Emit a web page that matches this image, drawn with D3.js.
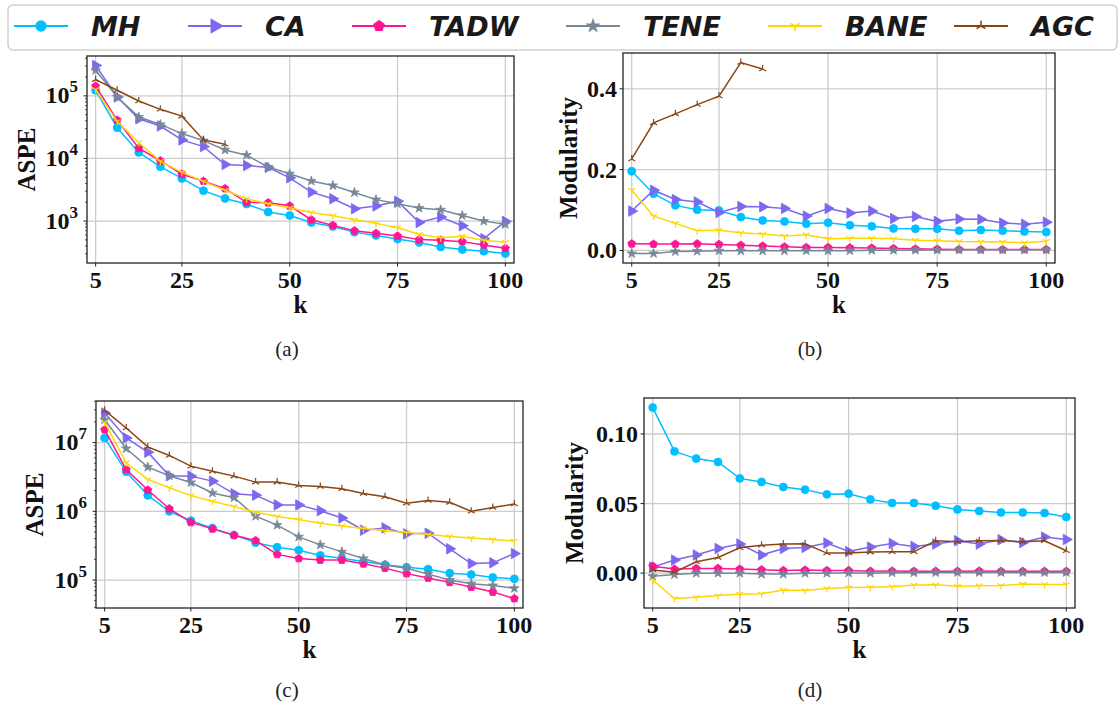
<!DOCTYPE html>
<html>
<head>
<meta charset="utf-8">
<script src="https://cdn.jsdelivr.net/npm/d3@7"></script>
<style>
  body { margin: 0; background: #fff; }
</style>
</head>
<body>
<svg id="fig" width="1120" height="709"></svg>
<script>
// k values on the x axis
const kVals = d3.range(5, 101, 5);
const methods = ["MH", "CA", "TADW", "TENE", "BANE", "AGC"];
const colors = ["#00bfff", "#7b68ee", "#ff1493", "#778899", "#ffd700", "#8b4513"];

// (a) ASPE
const aMH   = [1.23e5, 3.1e4, 1.25e4, 7.4e3, 4.8e3, 3.06e3, 2.3e3, 1.87e3, 1.4e3, 1.23e3, 950, 820, 665, 590, 515, 455, 385, 350, 330, 302];
const aCA   = [3.07e5, 9.6e4, 4.3e4, 3.3e4, 1.98e4, 1.55e4, 8.0e3, 7.7e3, 7.2e3, 4.9e3, 2.9e3, 2.27e3, 1.57e3, 1.74e3, 2.08e3, 950, 1.16e3, 843, 523, 988];
const aTADW = [1.43e5, 4.1e4, 1.46e4, 9.2e3, 5.6e3, 4.35e3, 3.3e3, 1.99e3, 1.96e3, 1.75e3, 1.05e3, 853, 700, 636, 577, 505, 492, 469, 415, 367];
const aTENE = [2.56e5, 9.6e4, 4.6e4, 3.5e4, 2.5e4, 1.93e4, 1.37e4, 1.13e4, 7.3e3, 5.7e3, 4.36e3, 3.7e3, 2.86e3, 2.2e3, 1.89e3, 1.61e3, 1.51e3, 1.23e3, 1.0e3, 885];
const aBANE = [1.26e5, 3.9e4, 1.8e4, 9.0e3, 6.0e3, 4.3e3, 3.1e3, 2.27e3, 1.89e3, 1.63e3, 1.37e3, 1.22e3, 1.05e3, 918, 784, 614, 543, 570, 492, 458];
const aAGC  = [1.82e5, 1.23e5, 8.3e4, 6.1e4, 4.75e4, 1.98e4, 1.69e4];

// (b) Modularity
const bMH   = [0.196, 0.1405, 0.1116, 0.1008, 0.099, 0.0826, 0.0744, 0.0719, 0.0661, 0.0686, 0.0625, 0.060, 0.0545, 0.0537, 0.0537, 0.0488, 0.0504, 0.0488, 0.047, 0.0455];
const bCA   = [0.0975, 0.149, 0.126, 0.12, 0.094, 0.109, 0.108, 0.104, 0.085, 0.104, 0.0926, 0.0975, 0.079, 0.084, 0.072, 0.078, 0.077, 0.068, 0.065, 0.070];
const bTADW = [0.0165, 0.0157, 0.0157, 0.0165, 0.015, 0.013, 0.011, 0.009, 0.0074, 0.0074, 0.0066, 0.006, 0.005, 0.004, 0.0033, 0.0025, 0.0025, 0.0025, 0.0025, 0.0025];
const bTENE = [-0.0074, -0.0074, -0.0025, -0.0017, -0.0008, -0.0008, -0.0008, -0.0008, -0.0008, -0.0008, -0.0005, 0.0005, 0.0005, 0.0008, 0.001, 0.0015, 0.0015, 0.0015, 0.0015, 0.0015];
const bBANE = [0.149, 0.085, 0.067, 0.049, 0.050, 0.044, 0.041, 0.0355, 0.039, 0.029, 0.030, 0.030, 0.029, 0.025, 0.024, 0.022, 0.0215, 0.0207, 0.019, 0.023];
const bAGC  = [0.2264, 0.3157, 0.338, 0.361, 0.382, 0.465, 0.449];

// (c) ASPE
const cMH   = [1.17e7, 3.76e6, 1.71e6, 1.0e6, 7.3e5, 5.7e5, 4.5e5, 3.5e5, 3.0e5, 2.72e5, 2.28e5, 2.08e5, 1.86e5, 1.67e5, 1.53e5, 1.44e5, 1.26e5, 1.2e5, 1.09e5, 1.04e5];
const cCA   = [2.69e7, 1.17e7, 7.25e6, 3.29e6, 3.25e6, 2.75e6, 1.8e6, 1.72e6, 1.24e6, 1.24e6, 1.02e6, 8.0e5, 5.3e5, 5.73e5, 4.7e5, 4.8e5, 2.85e5, 1.74e5, 1.78e5, 2.43e5];
const cTADW = [1.54e7, 4.06e6, 2.04e6, 1.09e6, 6.9e5, 5.55e5, 4.49e5, 3.76e5, 2.36e5, 2.06e5, 1.95e5, 1.95e5, 1.72e5, 1.49e5, 1.24e5, 1.07e5, 9.25e4, 7.9e4, 6.7e4, 5.37e4];
const cTENE = [2.15e7, 8.2e6, 4.4e6, 3.3e6, 2.63e6, 1.85e6, 1.58e6, 8.5e5, 6.3e5, 4.25e5, 3.25e5, 2.57e5, 2.06e5, 1.65e5, 1.48e5, 1.22e5, 1.0e5, 8.85e4, 8.3e4, 7.6e4];
const cBANE = [1.97e7, 5.07e6, 2.91e6, 2.2e6, 1.69e6, 1.4e6, 1.17e6, 9.7e5, 8.4e5, 7.6e5, 6.7e5, 6.1e5, 5.6e5, 5.2e5, 4.9e5, 4.6e5, 4.3e5, 4.1e5, 3.9e5, 3.7e5];
const cAGC  = [2.94e7, 1.63e7, 8.65e6, 6.5e6, 4.54e6, 3.84e6, 3.25e6, 2.66e6, 2.66e6, 2.38e6, 2.3e6, 2.13e6, 1.82e6, 1.63e6, 1.31e6, 1.44e6, 1.35e6, 1.0e6, 1.14e6, 1.28e6];

// (d) Modularity
const dMH   = [0.119, 0.0875, 0.0823, 0.0799, 0.0681, 0.0655, 0.0619, 0.060, 0.0566, 0.0571, 0.053, 0.0504, 0.0504, 0.0484, 0.0458, 0.0446, 0.0436, 0.0436, 0.0432, 0.0403];
const dCA   = [0.0043, 0.0094, 0.013, 0.0177, 0.0209, 0.013, 0.0177, 0.0185, 0.0216, 0.0155, 0.0187, 0.0213, 0.0192, 0.0209, 0.0233, 0.0209, 0.024, 0.022, 0.0259, 0.0242];
const dTADW = [0.005, 0.0029, 0.0034, 0.0034, 0.0029, 0.0024, 0.0019, 0.0022, 0.0019, 0.0019, 0.0014, 0.0015, 0.0014, 0.0014, 0.0014, 0.0015, 0.0013, 0.0013, 0.0013, 0.0013];
const dTENE = [-0.0022, -0.001, 0, 0, 0, -0.0007, -0.0007, 0, 0, 0.0002, 0, 0.0003, 0.0003, 0.0004, 0.0005, 0.0005, 0.0005, 0.0005, 0.0005, 0.0005];
const dBANE = [-0.005, -0.0182, -0.0173, -0.0161, -0.0151, -0.0149, -0.0122, -0.0125, -0.011, -0.0103, -0.0101, -0.0098, -0.0086, -0.0084, -0.0094, -0.0091, -0.0089, -0.0079, -0.0082, -0.0082];
const dAGC  = [0.0022, 0.0007, 0.0082, 0.0113, 0.0182, 0.0201, 0.0209, 0.0211, 0.0144, 0.0144, 0.0151, 0.0153, 0.0153, 0.0233, 0.0225, 0.0233, 0.0235, 0.0225, 0.0233, 0.0161];

const xTicks = [5, 25, 50, 75, 100];

const panels = [
  { box: [87, 56, 514, 263], log: true, label: "ASPE", labelX: 35, series: [aMH, aCA, aTADW, aTENE, aBANE, aAGC], yTicks: [1e3, 1e4, 1e5], cap: "(a)", capX: 287, capY: 356 },
  { box: [623, 53, 1055, 263], log: false, label: "Modularity", labelX: 577, series: [bMH, bCA, bTADW, bTENE, bBANE, bAGC], yTicks: [0, 0.2, 0.4], fmt: d3.format(".1f"), cap: "(b)", capX: 810, capY: 356 },
  { box: [96, 401, 523, 608], log: true, label: "ASPE", labelX: 43, series: [cMH, cCA, cTADW, cTENE, cBANE, cAGC], yTicks: [1e5, 1e6, 1e7], cap: "(c)", capX: 287, capY: 697 },
  { box: [644, 398, 1075, 608], log: false, label: "Modularity", labelX: 583, series: [dMH, dCA, dTADW, dTENE, dBANE, dAGC], yTicks: [0, 0.05, 0.10], fmt: d3.format(".2f"), cap: "(d)", capX: 810, capY: 697 }
];

const svg = d3.select("#fig");
const serif = "'Liberation Serif', 'Times New Roman', serif";

// marker shapes
function pentagon(r) {
  const pts = d3.range(5).map(i => {
    const a = -Math.PI / 2 + i * 2 * Math.PI / 5;
    return [r * Math.cos(a), r * Math.sin(a)];
  });
  return "M" + pts.map(p => p.join(",")).join("L") + "Z";
}
function triDown(r) {
  return `M0,0L0,${r}M0,0L${-0.866 * r},${-0.5 * r}M0,0L${0.866 * r},${-0.5 * r}`;
}
function triUp(r) {
  return `M0,0L0,${-r}M0,0L${-0.866 * r},${0.5 * r}M0,0L${0.866 * r},${0.5 * r}`;
}
const markers = [
  { d: d3.symbol().type(d3.symbolCircle).size(50)(), rot: 0, fill: true },
  { d: d3.symbol().type(d3.symbolTriangle).size(48)(), rot: 90, fill: true },
  { d: pentagon(4.2), rot: 0, fill: true },
  { d: d3.symbol().type(d3.symbolStar).size(28)(), rot: 0, fill: true },
  { d: triDown(4), rot: 0, fill: false },
  { d: triUp(4), rot: 0, fill: false }
];

function drawMarker(g, x, y, i, sc) {
  const m = markers[i];
  g.append("path")
    .attr("d", m.d)
    .attr("transform", `translate(${x},${y}) rotate(${m.rot}) scale(${sc || 1})`)
    .attr("fill", m.fill ? colors[i] : "none")
    .attr("stroke", colors[i])
    .attr("stroke-width", m.fill ? 0.8 : 1.2);
}

panels.forEach(p => {
  const [x0, y0, x1, y1] = p.box;
  const x = d3.scaleLinear().domain([3, 102]).range([x0, x1]);
  const all = p.series.flat();
  let y;
  if (p.log) {
    const lo = Math.log10(d3.min(all)), hi = Math.log10(d3.max(all));
    const pad = (hi - lo) * 0.05;
    y = d3.scaleLog().domain([Math.pow(10, lo - pad), Math.pow(10, hi + pad)]).range([y1, y0]);
  } else {
    const lo = d3.min(all), hi = d3.max(all);
    const pad = (hi - lo) * 0.05;
    y = d3.scaleLinear().domain([lo - pad, hi + pad]).range([y1, y0]);
  }

  const g = svg.append("g");

  // grid
  g.selectAll(".gx").data(xTicks).enter().append("line")
    .attr("x1", d => x(d)).attr("x2", d => x(d))
    .attr("y1", y0).attr("y2", y1)
    .attr("stroke", "#cccccc").attr("stroke-width", 1.3);
  g.selectAll(".gy").data(p.yTicks).enter().append("line")
    .attr("x1", x0).attr("x2", x1)
    .attr("y1", d => y(d)).attr("y2", d => y(d))
    .attr("stroke", "#cccccc").attr("stroke-width", 1.3);

  // series
  const line = d3.line().x((d, i) => x(kVals[i])).y(d => y(d));
  p.series.forEach((s, i) => {
    g.append("path").datum(s)
      .attr("d", line)
      .attr("fill", "none")
      .attr("stroke", colors[i])
      .attr("stroke-width", 1.5);
    s.forEach((v, j) => drawMarker(g, x(kVals[j]), y(v), i));
  });

  // frame
  g.append("rect")
    .attr("x", x0).attr("y", y0)
    .attr("width", x1 - x0).attr("height", y1 - y0)
    .attr("fill", "none").attr("stroke", "#222").attr("stroke-width", 1.3);

  // x ticks
  xTicks.forEach(t => {
    g.append("line").attr("x1", x(t)).attr("x2", x(t)).attr("y1", y1).attr("y2", y1 + 3.5)
      .attr("stroke", "#222").attr("stroke-width", 1);
    g.append("text").attr("x", x(t)).attr("y", y1 + 24.5)
      .attr("text-anchor", "middle")
      .attr("font-family", serif).attr("font-weight", "bold").attr("font-size", 24)
      .attr("fill", "#111")
      .text(t);
  });

  // y ticks
  p.yTicks.forEach(t => {
    g.append("line").attr("x1", x0 - 3.5).attr("x2", x0).attr("y1", y(t)).attr("y2", y(t))
      .attr("stroke", "#222").attr("stroke-width", 1);
    const tx = g.append("text")
      .attr("text-anchor", "end")
      .attr("font-family", serif).attr("font-weight", "bold").attr("font-size", 24)
      .attr("fill", "#111");
    if (p.log) {
      tx.attr("x", x0 - 9).attr("y", y(t) + 7.6);
      tx.append("tspan").text("10");
      tx.append("tspan").attr("font-size", 17).attr("dy", -11).text(Math.round(Math.log10(t)));
    } else {
      tx.attr("x", x0 - 6).attr("y", y(t) + 8).text(p.fmt(t));
    }
  });

  // log minor ticks
  if (p.log) {
    const [dlo, dhi] = y.domain();
    for (let e = Math.floor(Math.log10(dlo)); e <= Math.ceil(Math.log10(dhi)); e++) {
      for (let m = 2; m <= 9; m++) {
        const v = m * Math.pow(10, e);
        if (v < dlo || v > dhi) continue;
        g.append("line").attr("x1", x0 - 2).attr("x2", x0).attr("y1", y(v)).attr("y2", y(v))
          .attr("stroke", "#222").attr("stroke-width", 0.8);
      }
    }
  }

  // axis labels
  g.append("text")
    .attr("x", (x0 + x1) / 2).attr("y", y1 + 50)
    .attr("text-anchor", "middle")
    .attr("font-family", serif).attr("font-weight", "bold").attr("font-size", 25)
    .attr("fill", "#111")
    .text("k");
  g.append("text")
    .attr("transform", `translate(${p.labelX},${(y0 + y1) / 2}) rotate(-90)`)
    .attr("text-anchor", "middle")
    .attr("font-family", serif).attr("font-weight", "bold").attr("font-size", 25)
    .attr("fill", "#111")
    .text(p.label);

  // sub caption
  g.append("text")
    .attr("x", p.capX).attr("y", p.capY)
    .attr("text-anchor", "middle")
    .attr("font-family", serif).attr("font-size", 21)
    .attr("fill", "#222")
    .text(p.cap);
});

// legend
const legend = svg.append("g");
legend.append("rect")
  .attr("x", 8).attr("y", 5).attr("width", 1109).attr("height", 45)
  .attr("rx", 5)
  .attr("fill", "#fff").attr("stroke", "#d0d0d0").attr("stroke-width", 1.5);
const legX = [14, 188, 352, 566, 768, 954];
methods.forEach((m, i) => {
  const lx = legX[i];
  legend.append("line")
    .attr("x1", lx).attr("x2", lx + 54).attr("y1", 26).attr("y2", 26)
    .attr("stroke", colors[i]).attr("stroke-width", 2.2);
  drawMarker(legend, lx + 27, 26, i, 1.3);
  legend.append("text")
    .attr("x", lx + 77).attr("y", 36)
    .attr("font-family", "'DejaVu Sans', sans-serif")
    .attr("font-weight", "bold").attr("font-style", "italic")
    .attr("font-size", 27)
    .attr("fill", "#1a1a1a")
    .text(m);
});
</script>
</body>
</html>
